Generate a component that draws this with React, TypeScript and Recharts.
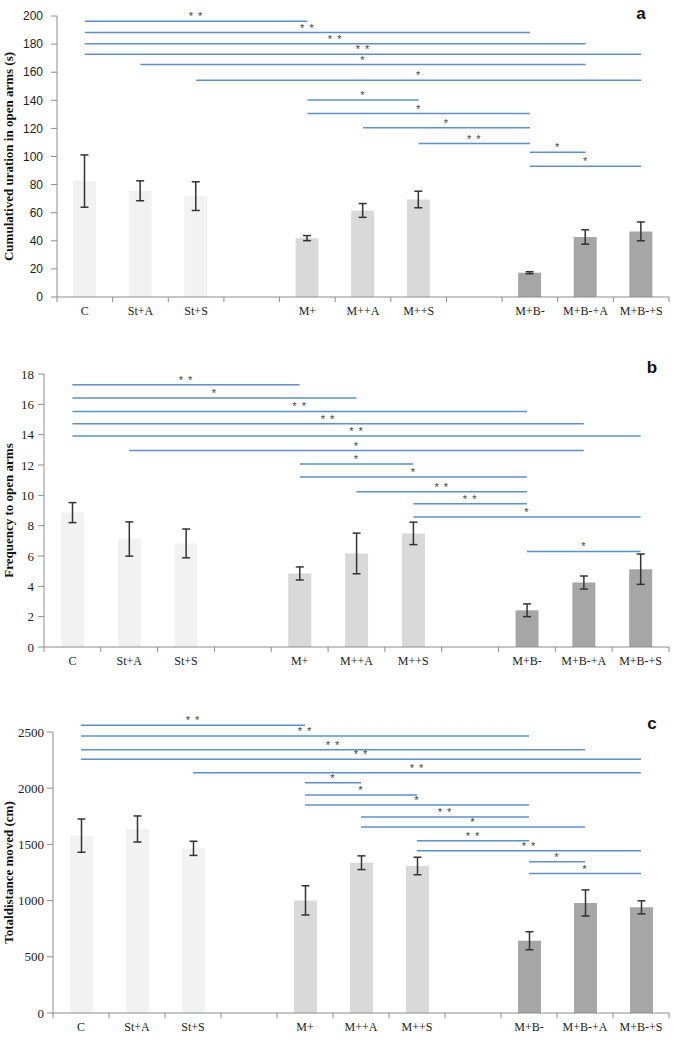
import React from 'react';
import { BarChart, Bar, XAxis, YAxis, ErrorBar, Cell, ReferenceLine, Label } from 'recharts';

const CATEGORIES = ['C', 'St+A', 'St+S', '', 'M+', 'M++A', 'M++S', ' ', 'M+B-', 'M+B-+A', 'M+B-+S'];
const GROUP_COLORS = ['#f2f2f2', '#f2f2f2', '#f2f2f2', '#ffffff', '#d9d9d9', '#d9d9d9', '#d9d9d9', '#ffffff', '#a6a6a6', '#a6a6a6', '#a6a6a6'];

// panel a - cumulative duration in open arms (s)
const durationValues = [82.5, 75.6, 71.8, null, 41.9, 61.6, 69.4, null, 17.3, 42.7, 46.7];
const durationErrors = [18.6, 7.1, 10.2, null, 1.8, 4.9, 5.9, null, 0.7, 5.1, 6.7];
const durationTicks = [0, 20, 40, 60, 80, 100, 120, 140, 160, 180, 200];
const durationSig: [string, string, number, string][] = [
  ['C', 'M+', 196.2, '* *'],
  ['C', 'M+B-', 188.2, '* *'],
  ['C', 'M+B-+A', 180.3, '* *'],
  ['C', 'M+B-+S', 172.7, '* *'],
  ['St+A', 'M+B-+A', 165.4, '*'],
  ['St+S', 'M+B-+S', 154.3, '*'],
  ['M+', 'M++S', 140.3, '*'],
  ['M+', 'M+B-', 130.6, '*'],
  ['M++A', 'M+B-', 120.4, '*'],
  ['M++S', 'M+B-', 109.2, '* *'],
  ['M+B-', 'M+B-+A', 103.1, '*'],
  ['M+B-', 'M+B-+S', 93.1, '*'],
];

// panel b - frequency to open arms
const freqValues = [8.86, 7.12, 6.83, null, 4.85, 6.17, 7.49, null, 2.42, 4.25, 5.13];
const freqErrors = [0.66, 1.13, 0.95, null, 0.43, 1.34, 0.74, null, 0.42, 0.43, 1.0];
const freqTicks = [0, 2, 4, 6, 8, 10, 12, 14, 16, 18];
const freqSig: [string, string, number, string][] = [
  ['C', 'M+', 17.29, '* *'],
  ['C', 'M++A', 16.41, '*'],
  ['C', 'M+B-', 15.53, '* *'],
  ['C', 'M+B-+A', 14.72, '* *'],
  ['C', 'M+B-+S', 13.92, '* *'],
  ['St+A', 'M+B-+A', 12.95, '*'],
  ['M+', 'M++S', 12.07, '*'],
  ['M+', 'M+B-', 11.21, '*'],
  ['M++A', 'M+B-', 10.24, '* *'],
  ['M++S', 'M+B-', 9.45, '* *'],
  ['M++S', 'M+B-+S', 8.57, '*'],
  ['M+B-', 'M+B-+S', 6.3, '*'],
];

// panel c - total distance moved (cm)
const distValues = [1578, 1637, 1465, null, 1002, 1337, 1308, null, 643, 979, 940];
const distErrors = [148, 116, 63, null, 130, 61, 78, null, 80, 116, 58];
const distTicks = [0, 500, 1000, 1500, 2000, 2500];
const distSig: [string, string, number, string][] = [
  ['C', 'M+', 2559, '* *'],
  ['C', 'M+B-', 2464, '* *'],
  ['C', 'M+B-+A', 2343, '* *'],
  ['C', 'M+B-+S', 2257, '* *'],
  ['St+S', 'M+B-+S', 2138, '* *'],
  ['M+', 'M++A', 2049, '*'],
  ['M+', 'M++S', 1940, '*'],
  ['M+', 'M+B-', 1851, '*'],
  ['M++A', 'M+B-', 1744, '* *'],
  ['M++A', 'M+B-+A', 1655, '*'],
  ['M++S', 'M+B-', 1533, '* *'],
  ['M++S', 'M+B-+S', 1444, '* *'],
  ['M+B-', 'M+B-+A', 1346, '*'],
  ['M+B-', 'M+B-+S', 1240, '*'],
];

const AXIS = '#8c8c8c';
const SIG_BLUE = '#5b8fd4';
const SERIF = '"Liberation Serif", "Times New Roman", serif';
const SANS = '"Liberation Sans", Arial, sans-serif';

const W = 675;

const CategoryTick = (props: any) => {
  const { x, y, payload, index, bandHalf } = props;
  const half = payload?.offset || bandHalf;
  const last = index === CATEGORIES.length - 1;
  return (
    <g>
      <line x1={x - half} x2={x - half} y1={y} y2={y + 5} stroke={AXIS} />
      {last && <line x1={x + half} x2={x + half} y1={y} y2={y + 5} stroke={AXIS} />}
      <text x={x} y={y + 18} textAnchor="middle" fontFamily={SERIF} fontSize={12} fill="#222">
        {payload.value}
      </text>
    </g>
  );
};

interface PanelProps {
  top: number;
  height: number;
  marginTop: number;
  axisWidth: number;
  values: (number | null)[];
  errors: (number | null)[];
  ticks: number[];
  sig: [string, string, number, string][];
  title: string;
  tickFont: string;
  tickSize: number;
  tickMargin: number;
  letter: string;
  letterX: number;
  letterY: number;
}

function Panel(p: PanelProps) {
  const data = CATEGORIES.map((name, i) => ({ name, value: p.values[i], err: p.errors[i] }));
  const right = 6;
  const bandHalf = (W - p.axisWidth - right) / CATEGORIES.length / 2;
  const renderTitle = (lp: any) => {
    const vb = lp.viewBox || {};
    const cy = (vb.y ?? 0) + (vb.height ?? 0) / 2;
    return (
      <text
        x={8}
        y={cy}
        transform={`rotate(-90, 8, ${cy})`}
        textAnchor="middle"
        dominantBaseline="central"
        fontFamily={SERIF}
        fontWeight="bold"
        fontSize={13}
        fill="#111"
      >
        {p.title}
      </text>
    );
  };
  return (
    <>
      <div style={{ position: 'absolute', left: 0, top: p.top }}>
        <BarChart
          width={W}
          height={p.height}
          data={data}
          margin={{ top: p.marginTop, right, bottom: 0, left: 0 }}
        >
          <XAxis
            dataKey="name"
            height={23}
            interval={0}
            stroke={AXIS}
            tickLine={false}
            tickSize={0}
            tickMargin={0}
            tick={<CategoryTick bandHalf={bandHalf} />}
          />
          <YAxis
            width={p.axisWidth}
            domain={[p.ticks[0], p.ticks[p.ticks.length - 1]]}
            ticks={p.ticks}
            interval={0}
            stroke={AXIS}
            tickSize={6}
            tickMargin={p.tickMargin}
            tick={{ fontFamily: p.tickFont, fontSize: p.tickSize, fill: '#222' }}
          >
            <Label content={renderTitle} />
          </YAxis>
          <Bar dataKey="value" barSize={23} isAnimationActive={false}>
            {data.map((d, i) => (
              <Cell key={`c-${i}`} fill={GROUP_COLORS[i]} />
            ))}
            <ErrorBar dataKey="err" width={4} stroke="#333" strokeWidth={1.5} direction="y" />
          </Bar>
          {p.sig.map(([a, b, y, stars], i) => (
            <ReferenceLine
              key={`s-${i}`}
              segment={[{ x: a, y }, { x: b, y }]}
              stroke={SIG_BLUE}
              strokeWidth={1.5}
              ifOverflow="visible"
              label={{ value: stars, position: 'top', offset: 1, fill: '#444', fontSize: 11, fontFamily: SANS, letterSpacing: 1 }}
            />
          ))}
        </BarChart>
      </div>
      <div
        style={{
          position: 'absolute',
          left: p.letterX - 10,
          top: p.letterY,
          width: 20,
          textAlign: 'center',
          fontFamily: SANS,
          fontWeight: 'bold',
          fontSize: 17,
          lineHeight: '20px',
          color: '#111',
        }}
      >
        {p.letter}
      </div>
    </>
  );
}

export default function App() {
  return (
    <div style={{ position: 'absolute', left: 0, top: 0, width: W, height: 1039, background: '#fff', overflow: 'hidden' }}>
      <Panel
        top={0}
        height={320}
        marginTop={16}
        axisWidth={57}
        values={durationValues}
        errors={durationErrors}
        ticks={durationTicks}
        sig={durationSig}
        title="Cumulatived uration in  open arms (s)"
        tickFont={SANS}
        tickSize={12}
        tickMargin={8}
        letter="a"
        letterX={641}
        letterY={4}
      />
      <Panel
        top={340}
        height={330}
        marginTop={34}
        axisWidth={44}
        values={freqValues}
        errors={freqErrors}
        ticks={freqTicks}
        sig={freqSig}
        title="Frequency to open arms"
        tickFont={SERIF}
        tickSize={13}
        tickMargin={4}
        letter="b"
        letterX={652}
        letterY={358}
      />
      <Panel
        top={700}
        height={336}
        marginTop={32}
        axisWidth={53}
        values={distValues}
        errors={distErrors}
        ticks={distTicks}
        sig={distSig}
        title="Totaldistance moved (cm)"
        tickFont={SERIF}
        tickSize={13}
        tickMargin={3}
        letter="c"
        letterX={652}
        letterY={714}
      />
    </div>
  );
}
